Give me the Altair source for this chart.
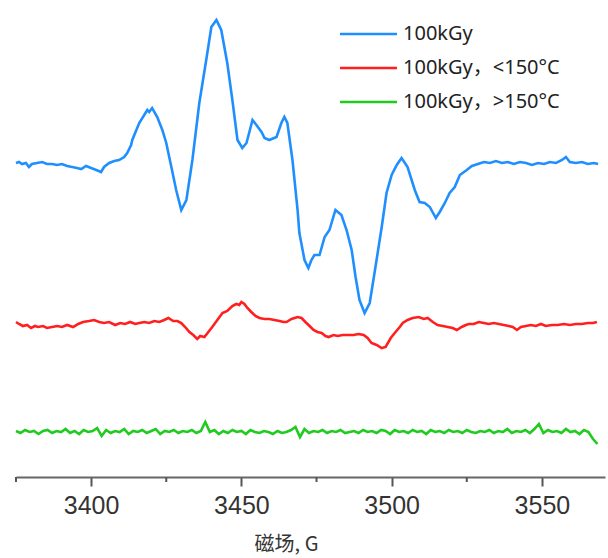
import altair as alt
import pandas as pd

# EPR spectra: magnetic field (G) vs. first-derivative signal (a.u., stacked traces)
SERIES = ["100kGy", "100kGy，<150°C", "100kGy，>150°C"]
COLORS = ["#1f8fff", "#ff1f1f", "#1ecb1e"]

field_a = [3375.0, 3376.0, 3377.0, 3378.3, 3379.3, 3380.3, 3382.0, 3383.7, 3385.3, 3387.0,
           3388.7, 3390.3, 3392.0, 3393.7, 3395.3, 3396.7, 3398.3, 3400.0, 3401.7, 3403.3,
           3404.3, 3406.0, 3407.7, 3409.3, 3411.0, 3412.0, 3413.3, 3413.7, 3416.0, 3418.7,
           3419.3, 3420.3, 3422.0, 3423.7, 3425.0, 3426.7, 3428.3, 3430.0, 3431.7, 3433.7,
           3436.0, 3438.3, 3440.0, 3441.7, 3443.3, 3445.3, 3447.0, 3448.7, 3450.3, 3451.7,
           3453.7, 3455.0, 3456.7, 3457.7, 3459.3, 3461.7, 3463.3, 3464.3, 3465.3, 3467.0,
           3468.7, 3469.3, 3471.0, 3472.3, 3473.3, 3474.3, 3476.0, 3477.7, 3479.3, 3481.3,
           3483.3, 3485.0, 3486.7, 3488.0, 3489.3, 3491.0, 3492.7, 3494.3, 3496.7, 3498.3,
           3500.0, 3501.7, 3503.3, 3505.3, 3507.7, 3509.3, 3511.0, 3512.7, 3514.7, 3516.0,
           3517.7, 3519.3, 3521.0, 3522.7, 3525.0, 3526.7, 3528.7, 3530.7, 3532.7, 3534.7,
           3536.7, 3538.7, 3540.7, 3542.7, 3544.7, 3546.7, 3548.7, 3550.7, 3552.7, 3554.7,
           3556.7, 3558.0, 3559.3, 3561.3, 3563.3, 3565.3, 3567.3, 3568.7]
signal_a = [314, 315, 313, 314, 310, 313, 314, 315, 313, 313,
            312, 313, 311, 310, 309, 308, 311, 309, 307, 305,
            310, 314, 316, 317, 320, 324, 332, 337, 354, 367,
            365, 369, 360, 347, 334, 310, 287, 267, 277, 317,
            374, 417, 450, 457, 447, 414, 377, 337, 329, 334,
            357, 352, 345, 339, 337, 340, 354, 360, 354, 317,
            267, 244, 217, 209, 217, 222, 222, 240, 247, 267,
            262, 247, 227, 200, 177, 164, 174, 204, 250, 284,
            302, 312, 319, 310, 287, 275, 274, 270, 259, 265,
            274, 284, 290, 302, 307, 311, 313, 315, 314, 316,
            314, 315, 313, 315, 314, 312, 314, 313, 315, 314,
            317, 320, 315, 314, 315, 313, 314, 313]

field_b = [3375.0, 3376.0, 3377.3, 3378.7, 3380.0, 3381.3, 3382.3, 3384.0, 3385.3, 3387.0,
           3388.7, 3390.3, 3392.0, 3394.0, 3395.7, 3397.3, 3399.3, 3401.0, 3402.7, 3404.3,
           3406.0, 3408.0, 3409.7, 3411.3, 3413.0, 3414.7, 3416.0, 3417.7, 3419.3, 3421.0,
           3422.7, 3424.3, 3425.7, 3427.3, 3428.7, 3430.0, 3431.3, 3432.7, 3434.0, 3435.3,
           3436.3, 3437.7, 3439.0, 3440.3, 3442.0, 3443.7, 3445.3, 3447.0, 3448.3, 3449.3,
           3450.0, 3451.0, 3452.0, 3453.3, 3454.7, 3456.0, 3457.7, 3459.3, 3461.0, 3462.7,
           3464.0, 3465.0, 3466.7, 3467.7, 3468.7, 3470.0, 3471.3, 3472.7, 3474.0, 3475.3,
           3476.7, 3478.0, 3479.0, 3480.7, 3482.0, 3483.7, 3485.7, 3487.3, 3489.0, 3490.7,
           3492.0, 3493.3, 3495.0, 3496.7, 3498.0, 3499.7, 3501.3, 3502.7, 3503.7, 3505.3,
           3507.0, 3509.0, 3510.7, 3512.0, 3513.7, 3515.3, 3517.0, 3518.7, 3520.3, 3521.7,
           3523.3, 3524.7, 3525.7, 3527.3, 3529.0, 3530.7, 3532.3, 3534.0, 3535.7, 3537.3,
           3539.0, 3540.3, 3541.7, 3543.0, 3544.7, 3546.3, 3548.0, 3549.7, 3551.3, 3553.3,
           3555.3, 3557.3, 3559.3, 3561.3, 3563.3, 3565.3, 3567.0, 3568.3]
signal_b = [155, 153, 151, 152, 149, 151, 150, 151, 149, 150,
            151, 150, 152, 150, 153, 155, 156, 157, 155, 154,
            155, 152, 154, 153, 155, 153, 154, 155, 154, 156,
            155, 157, 159, 156, 156, 154, 150, 145, 142, 138,
            141, 140, 145, 150, 157, 164, 166, 171, 173, 172,
            175, 173, 169, 165, 161, 159, 158, 158, 157, 156,
            155, 155, 158, 159, 160, 159, 155, 151, 147, 145,
            144, 141, 140, 142, 141, 142, 142, 142, 143, 142,
            139, 134, 132, 129, 130, 139, 145, 150, 154, 157,
            159, 160, 158, 159, 155, 152, 151, 150, 149, 147,
            150, 152, 153, 153, 155, 154, 153, 154, 153, 152,
            151, 150, 147, 150, 151, 152, 151, 153, 151, 152,
            152, 153, 152, 153, 153, 154, 154, 155]

field_c = [3375.0, 3376.5, 3378.0, 3379.5, 3381.0, 3382.5, 3384.0, 3385.5, 3387.0, 3388.5,
           3390.0, 3391.5, 3393.0, 3394.5, 3396.0, 3397.5, 3399.0, 3400.5, 3402.0, 3403.5,
           3405.0, 3406.5, 3408.0, 3409.5, 3411.0, 3412.5, 3414.0, 3415.5, 3417.0, 3418.5,
           3420.0, 3421.5, 3423.0, 3424.5, 3426.0, 3427.5, 3429.0, 3430.5, 3432.0, 3433.5,
           3435.0, 3436.5, 3438.0, 3439.5, 3441.0, 3442.5, 3444.0, 3445.5, 3447.0, 3448.5,
           3450.0, 3451.5, 3453.0, 3454.5, 3456.0, 3457.5, 3459.0, 3460.5, 3462.0, 3463.5,
           3465.0, 3466.5, 3468.0, 3469.5, 3471.0, 3472.5, 3474.0, 3475.5, 3477.0, 3478.5,
           3480.0, 3481.5, 3483.0, 3484.5, 3486.0, 3487.5, 3489.0, 3490.5, 3492.0, 3493.5,
           3495.0, 3496.5, 3498.0, 3499.5, 3501.0, 3502.5, 3504.0, 3505.5, 3507.0, 3508.5,
           3510.0, 3511.5, 3513.0, 3514.5, 3516.0, 3517.5, 3519.0, 3520.5, 3522.0, 3523.5,
           3525.0, 3526.5, 3528.0, 3529.5, 3531.0, 3532.5, 3534.0, 3535.5, 3537.0, 3538.5,
           3540.0, 3541.5, 3543.0, 3544.5, 3546.0, 3547.5, 3549.0, 3550.5, 3552.0, 3553.5,
           3555.0, 3556.5, 3558.0, 3559.5, 3561.0, 3562.5, 3564.0, 3565.5, 3567.0, 3568.5]
signal_c = [46, 44, 47, 45, 46, 43, 46, 47, 44, 46,
            45, 48, 44, 46, 43, 47, 45, 46, 49, 41,
            47, 44, 46, 45, 48, 43, 46, 45, 47, 44,
            46, 48, 43, 46, 45, 47, 44, 46, 45, 47,
            44, 46, 55, 45, 47, 43, 46, 44, 47, 45,
            46, 43, 47, 45, 44, 46, 45, 43, 46, 44,
            45, 47, 50, 40, 48, 44, 46, 45, 47, 44,
            46, 45, 47, 44, 45, 46, 44, 47, 45, 46,
            44, 47, 46, 43, 47, 45, 46, 44, 47, 45,
            46, 43, 47, 45, 46, 44, 47, 45, 46, 44,
            47, 45, 44, 46, 45, 47, 44, 46, 45, 48,
            44, 46, 45, 47, 44, 48, 53, 44, 47, 45,
            46, 44, 48, 45, 46, 43, 47, 45, 38, 33]

minor_ticks = [3375, 3425, 3475, 3525]
major_ticks = [3400, 3450, 3500, 3550]

frames = []
for name, fx, sy in zip(SERIES, [field_a, field_b, field_c], [signal_a, signal_b, signal_c]):
    frames.append(pd.DataFrame({"field": fx, "signal": sy, "sample": name}))
spectra = pd.concat(frames, ignore_index=True)
keys = pd.DataFrame({"sample": SERIES})

x_scale = alt.Scale(domain=[3375, 3571], nice=False, zero=False)
y_scale = alt.Scale(domain=[0, 477], nice=False, zero=False)
color = alt.Color("sample:N", scale=alt.Scale(domain=SERIES, range=COLORS), legend=None)

lines = alt.Chart(spectra).mark_line(strokeWidth=2.6).encode(
    x=alt.X("field:Q", scale=x_scale,
            axis=alt.Axis(values=major_ticks, title="磁场, G", format="d",
                          tickSize=9, tickWidth=2, tickColor="#555",
                          domainColor="#666", domainWidth=2,
                          labelFont="Liberation Sans", labelFontSize=25,
                          labelColor="#333", labelPadding=7,
                          titleFont="Noto Sans CJK SC", titleFontSize=20,
                          titleFontWeight="normal", titleColor="#333",
                          titleX=270, titleY=67, titleAlign="center",
                          titleBaseline="middle", grid=False)),
    y=alt.Y("signal:Q", scale=y_scale, axis=None),
    color=color,
    order="field:Q",
)

# Unlabelled intermediate ticks every 50 G, offset by 25 G
minor = alt.Chart(pd.DataFrame({"tick": minor_ticks})).mark_rule(
    color="#555", strokeWidth=2).encode(
    x=alt.X("tick:Q", scale=x_scale),
    y=alt.YDatum(0, scale=y_scale, axis=None),
    y2=alt.Y2Datum(-5),
)

# Key in the upper right: one short stroke and one label per sample
key_rows = alt.Y("sample:N", axis=None,
                 scale=alt.Scale(type="point", domain=SERIES, range=[34, 102], padding=0))
key_strokes = alt.Chart(keys).mark_rule(strokeWidth=2.6).encode(
    x=alt.value(324), x2=alt.value(381), y=key_rows, color=color,
)
key_labels = alt.Chart(keys).mark_text(
    align="left", baseline="middle", font="Noto Sans, Noto Sans CJK SC",
    fontSize=20, color="#222").encode(
    x=alt.value(387), y=key_rows, text="sample:N",
)

chart = alt.layer(lines, minor, key_strokes, key_labels).resolve_scale(
    y="independent"
).properties(
    width=589, height=477,
    autosize=alt.AutoSizeParams(type="none"),
    padding={"left": 16, "top": 0, "right": 3, "bottom": 81},
).configure_view(strokeWidth=0)

chart.save("out.html", embed_options={"renderer": "svg", "actions": False})
